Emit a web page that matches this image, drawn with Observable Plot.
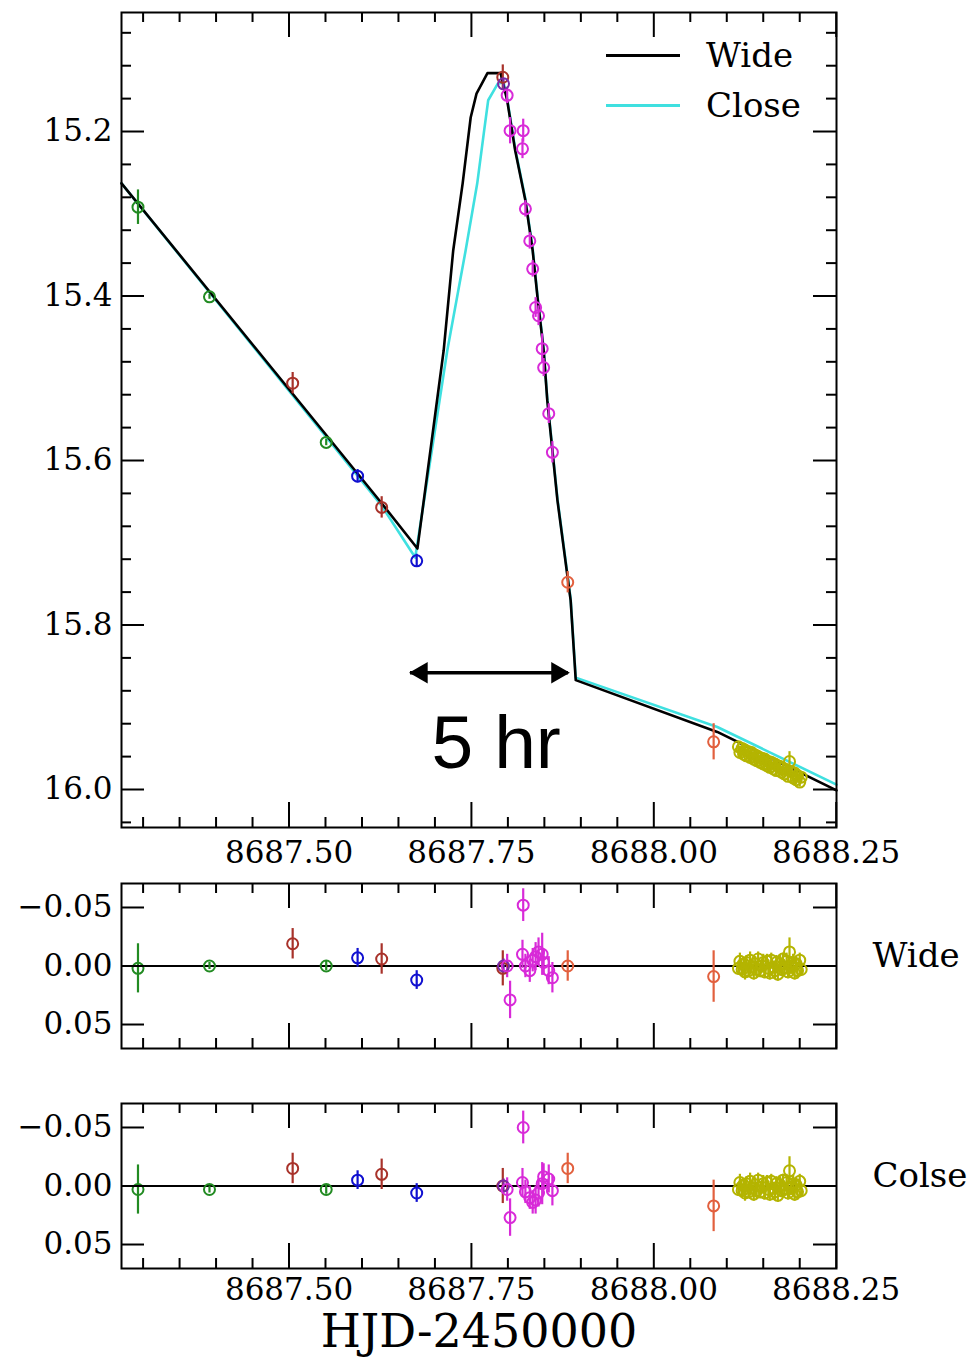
<!DOCTYPE html>
<html><head><meta charset="utf-8">
<script src="https://cdn.jsdelivr.net/npm/d3@7"></script>
<script src="https://cdn.jsdelivr.net/npm/@observablehq/plot@0.6"></script>
<style>
body{margin:0;background:#fff;}
#wrap{position:relative;width:975px;height:1359px;font-family:"DejaVu Serif";}
#wrap svg{position:absolute;left:0;}
.legend{position:absolute;left:606px;top:30px;font:34px "DejaVu Serif";color:#000;}
.row{display:flex;align-items:center;height:50px;}
.sw{width:74px;height:3px;margin-right:26px;}
</style></head><body><div id="wrap"></div>
<script>
// ---------- axes / ticks ----------
const xDomain = [8687.2704, 8688.2504];
const xMajor = [8687.50, 8687.75, 8688.00, 8688.25];
const xMinor = [8687.30, 8687.35, 8687.40, 8687.45, 8687.55, 8687.60, 8687.65, 8687.70,
                8687.80, 8687.85, 8687.90, 8687.95, 8688.05, 8688.10, 8688.15, 8688.20];
const magDomain = [15.0553, 16.0462];
const magMajor = [15.2, 15.4, 15.6, 15.8, 16.0];
const magMinor = [15.08, 15.12, 15.16, 15.24, 15.28, 15.32, 15.36, 15.44, 15.48, 15.52, 15.56,
                  15.64, 15.68, 15.72, 15.76, 15.84, 15.88, 15.92, 15.96, 16.04];
const resDomain = [-0.0705, 0.0705];
const resMajor = [-0.05, 0, 0.05];
const xTitle = "HJD-2450000";
const panelLabels = ["Wide", "Colse"];
const legendKeys = ["Wide", "Close"];
const legendColors = ["#000000", "#3fe0e0"];

// ---------- model curves ----------
const wideT = [8687.2704, 8687.627, 8687.676, 8687.712, 8687.725, 8687.738, 8687.749, 8687.757, 8687.772, 8687.790,
               8687.799, 8687.810, 8687.824, 8687.834, 8687.841, 8687.849, 8687.854, 8687.868, 8687.886,
               8687.893, 8688.087, 8688.2504];
const wideMag = [15.263, 15.652, 15.707, 15.466, 15.345, 15.263, 15.183, 15.154, 15.129, 15.129,
                 15.162, 15.223, 15.284, 15.345, 15.405, 15.466, 15.527, 15.649, 15.770,
                 15.867, 15.930, 16.001];
const closeT = [8687.2704, 8687.627, 8687.673, 8687.717, 8687.742, 8687.758, 8687.767, 8687.773, 8687.786, 8687.794,
                8687.799, 8687.810, 8687.824, 8687.834, 8687.841, 8687.849, 8687.854, 8687.868, 8687.886,
                8687.893, 8688.087, 8688.2504];
const closeMag = [15.263, 15.655, 15.718, 15.466, 15.345, 15.263, 15.202, 15.162, 15.142, 15.140,
                  15.160, 15.221, 15.282, 15.343, 15.403, 15.464, 15.525, 15.647, 15.768,
                  15.864, 15.924, 15.994];

// ---------- observations (data sets by observatory) ----------
const groupNames = ["set1", "set2", "set3", "set4", "set5", "set6", "set7"];
const groupColors = ["#228b22", "#a8322a", "#1010d0", "#7a2aa8", "#d82ad8", "#e2603e", "#b4b400"];

const obsGroup = ["set1", "set1", "set1", "set2", "set2", "set2", "set3", "set3", "set4",
  "set5", "set5", "set5", "set5", "set5", "set5", "set5", "set5", "set5",
  "set5", "set5", "set5", "set5", "set6", "set6"];
const obsT = [8687.293, 8687.391, 8687.551, 8687.505, 8687.627, 8687.793, 8687.594, 8687.675, 8687.794,
  8687.799, 8687.803, 8687.821, 8687.820, 8687.824, 8687.830, 8687.834, 8687.838, 8687.842,
  8687.847, 8687.849, 8687.856, 8687.861, 8687.882, 8688.082];
const obsMag = [15.292, 15.401, 15.578, 15.506, 15.657, 15.134, 15.619, 15.722, 15.142,
  15.156, 15.199, 15.199, 15.221, 15.294, 15.333, 15.367, 15.414, 15.424,
  15.464, 15.487, 15.543, 15.590, 15.748, 15.942];
const obsErr = [0.021, 0.003, 0.004, 0.013, 0.013, 0.015, 0.008, 0.008, 0.006,
  0.010, 0.016, 0.014, 0.012, 0.010, 0.010, 0.010, 0.012, 0.012,
  0.018, 0.011, 0.012, 0.013, 0.013, 0.022];
const obsResWide = [0.002, 0.000, 0.000, -0.019, -0.006, 0.002, -0.007, 0.012, 0.000,
  0.000, 0.029, -0.052, -0.010, 0.000, 0.004, -0.005, -0.008, -0.012,
  -0.010, -0.003, 0.004, 0.010, 0.000, 0.009];
const obsResClose = [0.003, 0.003, 0.003, -0.015, -0.010, 0.000, -0.005, 0.006, 0.000,
  0.003, 0.027, -0.050, -0.003, 0.005, 0.010, 0.014, 0.012, 0.006,
  -0.002, -0.008, -0.006, 0.004, -0.015, 0.017];

const yellowT = [8688.116, 8688.118, 8688.121, 8688.123, 8688.125, 8688.127, 8688.130, 8688.132, 8688.134, 8688.137,
  8688.139, 8688.141, 8688.143, 8688.146, 8688.148, 8688.150, 8688.152, 8688.155, 8688.157, 8688.159,
  8688.161, 8688.164, 8688.166, 8688.168, 8688.170, 8688.173, 8688.175, 8688.177, 8688.179, 8688.182,
  8688.184, 8688.186, 8688.188, 8688.191, 8688.193, 8688.195, 8688.197, 8688.200, 8688.202];
const yellowMag = [15.948, 15.955, 15.950, 15.957, 15.952, 15.959, 15.954, 15.961, 15.955, 15.963,
  15.958, 15.965, 15.960, 15.967, 15.962, 15.969, 15.963, 15.971, 15.966, 15.973,
  15.967, 15.975, 15.969, 15.977, 15.971, 15.972, 15.979, 15.974, 15.981, 15.976,
  15.984, 15.966, 15.978, 15.986, 15.980, 15.988, 15.983, 15.991, 15.985];
const yellowErr = [0.006, 0.007, 0.006, 0.005, 0.007, 0.006, 0.006, 0.007, 0.005, 0.006,
  0.006, 0.007, 0.006, 0.006, 0.005, 0.007, 0.006, 0.006, 0.007, 0.006,
  0.006, 0.005, 0.007, 0.006, 0.006, 0.007, 0.006, 0.005, 0.006, 0.007,
  0.006, 0.012, 0.006, 0.007, 0.006, 0.006, 0.007, 0.006, 0.006];
const yellowResWide = [0.002, -0.004, 0.003, -0.002, 0.005, -0.003, 0.004, -0.005, 0.001, 0.006,
  -0.002, 0.003, -0.006, 0.004, 0.000, -0.003, 0.005, -0.004, 0.002, 0.006,
  -0.005, 0.001, 0.004, -0.003, 0.007, -0.002, 0.003, -0.006, 0.002, -0.004,
  0.005, -0.012, 0.001, -0.003, 0.006, -0.002, 0.004, -0.005, 0.003];
const yellowResClose = [0.003, -0.003, 0.004, -0.001, 0.006, -0.002, 0.005, -0.004, 0.002, 0.007,
  -0.001, 0.004, -0.005, 0.005, 0.001, -0.002, 0.006, -0.003, 0.003, 0.007,
  -0.004, 0.002, 0.005, -0.002, 0.008, -0.001, 0.004, -0.005, 0.003, -0.003,
  0.006, -0.013, 0.002, -0.002, 0.007, -0.001, 0.005, -0.004, 0.004];

// ---------- annotation ----------
const arrowT = [8687.6665, 8687.883];
const arrowMag = 15.858;
const noteText = "5 hr";
const noteT = 8687.784;
const noteMag = 15.945;

// ---------- build tables ----------
const wideModel = wideT.map((t, i) => ({t, mag: wideMag[i]}));
const closeModel = closeT.map((t, i) => ({t, mag: closeMag[i]}));
const obs = obsT.map((t, i) => ({group: obsGroup[i], t, mag: obsMag[i], err: obsErr[i], rW: obsResWide[i], rC: obsResClose[i]}))
  .concat(yellowT.map((t, i) => ({group: "set7", t, mag: yellowMag[i], err: yellowErr[i], rW: yellowResWide[i], rC: yellowResClose[i]})));

const W = 975, ML = 121, MR = 139, FW = W - ML - MR;
const FONT = "DejaVu Serif";

function ticks(xMaj, xMin, yMaj, yMin, FH) {
  const m = [
    Plot.ruleX(xMaj, {insetTop: FH - 25, strokeWidth: 2}),
    Plot.ruleX(xMaj, {insetBottom: FH - 25, strokeWidth: 2}),
    Plot.ruleX(xMin, {insetTop: FH - 10, strokeWidth: 2}),
    Plot.ruleX(xMin, {insetBottom: FH - 10, strokeWidth: 2}),
    Plot.ruleY(yMaj, {insetRight: FW - 23, strokeWidth: 2}),
    Plot.ruleY(yMaj, {insetLeft: FW - 23, strokeWidth: 2})
  ];
  if (yMin.length) {
    m.push(Plot.ruleY(yMin, {insetRight: FW - 10, strokeWidth: 2}));
    m.push(Plot.ruleY(yMin, {insetLeft: FW - 10, strokeWidth: 2}));
  }
  return m;
}

const colorScale = {type: "ordinal", domain: groupNames, range: groupColors};

// ---------- main panel ----------
const mainH = 870, mainMT = 12, mainMB = 43;
const main = Plot.plot({
  width: W, height: mainH, marginLeft: ML, marginRight: MR, marginTop: mainMT, marginBottom: mainMB,
  style: {fontFamily: FONT, fontSize: "31px", background: "transparent", overflow: "visible"},
  x: {domain: xDomain},
  y: {domain: magDomain, reverse: true},
  color: colorScale,
  marks: [
    Plot.line(closeModel, {x: "t", y: "mag", stroke: legendColors[1], strokeWidth: 2.6}),
    Plot.line(wideModel, {x: "t", y: "mag", stroke: legendColors[0], strokeWidth: 2.6}),
    Plot.ruleX(obs, {x: "t", y1: d => d.mag - d.err, y2: d => d.mag + d.err, stroke: "group", strokeWidth: 2.2}),
    Plot.dot(obs, {x: "t", y: "mag", stroke: "group", r: 5.5, strokeWidth: 2}),
    ...ticks(xMajor, xMinor, magMajor, magMinor, mainH - mainMT - mainMB),
    Plot.frame({strokeWidth: 2}),
    Plot.axisX({ticks: xMajor, tickSize: 0, tickPadding: 13, tickFormat: d3.format(".2f"), label: null, fontSize: 31}),
    Plot.axisY({ticks: magMajor, tickSize: 0, tickPadding: 9, tickFormat: d3.format(".1f"), label: null, fontSize: 31}),
    Plot.ruleY([arrowMag], {x1: arrowT[0], x2: arrowT[1], strokeWidth: 3.5}),
    Plot.dot([arrowT[0]], {x: d => d, y: arrowMag, symbol: "triangle", rotate: -90, r: 8, fill: "black", stroke: "none", dx: 11}),
    Plot.dot([arrowT[1]], {x: d => d, y: arrowMag, symbol: "triangle", rotate: 90, r: 8, fill: "black", stroke: "none", dx: -11}),
    Plot.text([noteText], {x: noteT, y: noteMag, text: d => d, fontSize: 75, fontFamily: "Liberation Sans", lineAnchor: "middle"})
  ]
});
main.style.top = "0px";

// ---------- residual panels ----------
function residPlot(key, label, top, height, mb, showX) {
  const mt = 13;
  const FH = height - mt - mb;
  const marks = [
    Plot.ruleY([0], {strokeWidth: 2}),
    Plot.ruleX(obs, {x: "t", y1: d => d[key] - d.err, y2: d => d[key] + d.err, stroke: "group", strokeWidth: 2.2}),
    Plot.dot(obs, {x: "t", y: key, stroke: "group", r: 5.5, strokeWidth: 2}),
    ...ticks(xMajor, xMinor, resMajor, [], FH),
    Plot.frame({strokeWidth: 2}),
    Plot.axisY({ticks: resMajor, tickSize: 0, tickPadding: 9, tickFormat: d3.format(".2f"), label: null, fontSize: 31}),
    Plot.text([label], {frameAnchor: "right", dx: 36, dy: -10, textAnchor: "start", text: d => d, fontSize: 34})
  ];
  if (showX) {
    marks.push(Plot.axisX({ticks: xMajor, tickSize: 0, tickPadding: 9, tickFormat: d3.format(".2f"), label: null, fontSize: 31}));
    marks.push(Plot.text([xTitle], {frameAnchor: "bottom", dy: 64, text: d => d, fontSize: 46, lineAnchor: "middle"}));
  }
  const p = Plot.plot({
    width: W, height, marginLeft: ML, marginRight: MR, marginTop: mt, marginBottom: mb,
    style: {fontFamily: FONT, fontSize: "31px", background: "transparent", overflow: "visible"},
    x: {domain: xDomain, axis: showX ? undefined : null},
    y: {domain: resDomain, reverse: true},
    color: colorScale,
    marks
  });
  p.style.top = top + "px";
  return p;
}

const wrap = document.getElementById("wrap");
wrap.appendChild(main);
wrap.appendChild(residPlot("rW", panelLabels[0], 870, 190, 12, false));
wrap.appendChild(residPlot("rC", panelLabels[1], 1090, 269, 91, true));

// legend
const lg = document.createElement("div");
lg.className = "legend";
legendKeys.forEach((k, i) => {
  const row = document.createElement("div");
  row.className = "row";
  const sw = document.createElement("div");
  sw.className = "sw";
  sw.style.background = legendColors[i];
  const tx = document.createElement("span");
  tx.textContent = k;
  row.appendChild(sw); row.appendChild(tx);
  lg.appendChild(row);
});
wrap.appendChild(lg);
</script></body></html>
